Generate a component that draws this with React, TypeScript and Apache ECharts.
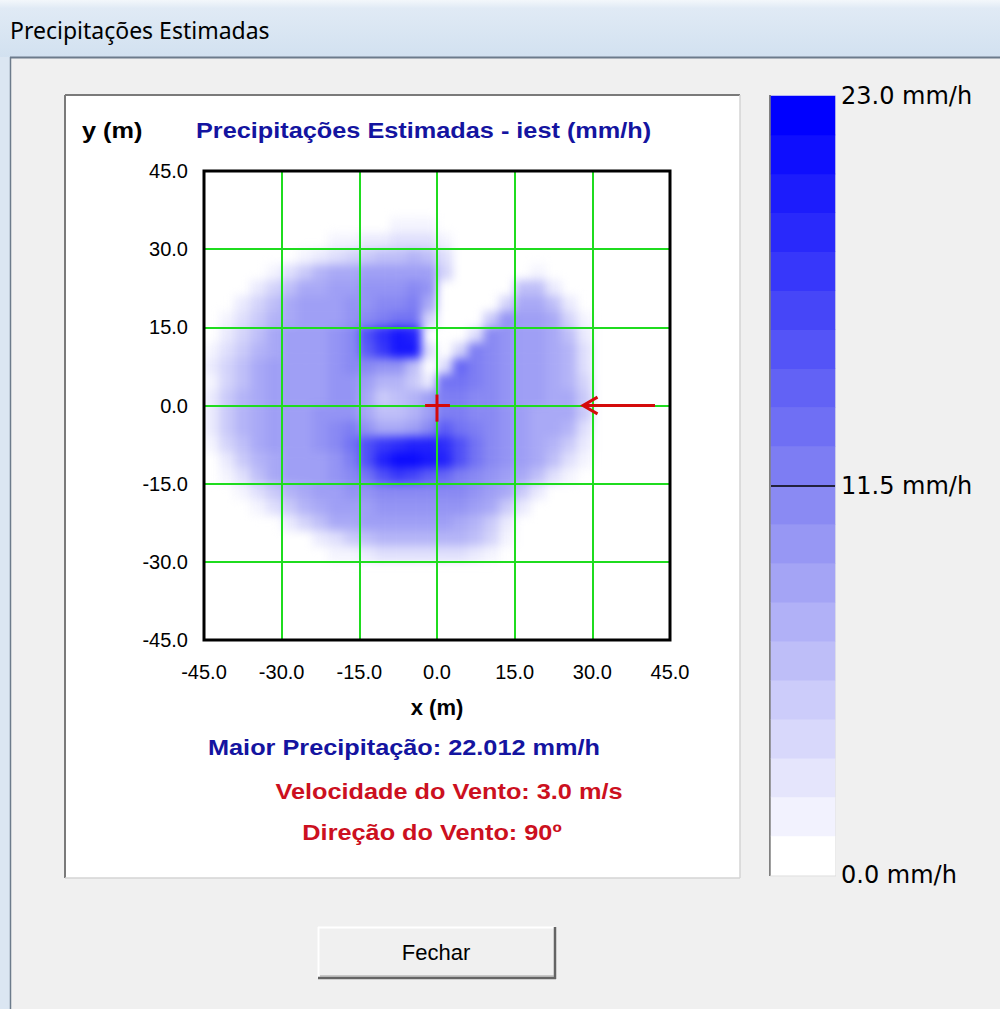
import React, { useEffect, useRef } from "react";
import * as echarts from "echarts";

// ---- data ----
// cell centres (m) of the 3 m x 3 m estimation grid
const X_CENTERS = [-43.5, -40.5, -37.5, -34.5, -31.5, -28.5, -25.5, -22.5, -19.5, -16.5, -13.5, -10.5, -7.5, -4.5, -1.5, 1.5, 4.5, 7.5, 10.5, 13.5, 16.5, 19.5, 22.5, 25.5, 28.5, 31.5, 34.5, 37.5, 40.5, 43.5];
const Y_CENTERS = [-43.5, -40.5, -37.5, -34.5, -31.5, -28.5, -25.5, -22.5, -19.5, -16.5, -13.5, -10.5, -7.5, -4.5, -1.5, 1.5, 4.5, 7.5, 10.5, 13.5, 16.5, 19.5, 22.5, 25.5, 28.5, 31.5, 34.5, 37.5, 40.5, 43.5];
// estimated precipitation (mm/h), one char per cell (base 36: 0-9, a=10 ... m=22), rows from top (y=43.5) to bottom
const PRECIP_ROWS = [
  "000000000000000000000000000000",
  "000000000000000000000000000000",
  "000000000000000000000000000000",
  "000000000000111000000000000000",
  "000000001122333100000000000000",
  "000000123456676300000000000000",
  "000013578899999400000100000000",
  "0002468899aaaba000006620000000",
  "002468999aabbc8000048862000000",
  "013578999abcdd40005a9984100000",
  "02468999abgjlk0003ba9986200000",
  "13578999abfill304cba9987300000",
  "24689999abbaa603ecba9987300000",
  "14689999aa97752ddcba9987400000",
  "25789999aa85679ccbba9988500000",
  "2578999aaa86679ccbba9888500000",
  "2578999abca889bfdcba9887300000",
  "1468999abdgijkkjgdba9875200000",
  "02578999acgkmmlkgdba9863100000",
  "01368999abdgihfecba98631000000",
  "001357899aabbbbbba985200000000",
  "00013578999aaaaaa9852000000000",
  "000002468899999987520000000000",
  "000000023567777776410000000000",
  "000000001123333332100000000000",
  "000000000000000000000000000000",
  "000000000000000000000000000000",
  "000000000000000000000000000000",
  "000000000000000000000000000000",
  "000000000000000000000000000000",
];
const AXIS_MIN = -45;
const AXIS_MAX = 45;
const AXIS_STEP = 15;
// colour scale bands (mm/h), bottom to top
const COLORBAR_LEVELS = [0, 1.2, 2.4, 3.6, 4.8, 6.1, 7.3, 8.5, 9.7, 10.9, 12.1, 13.3, 14.5, 15.7, 16.9, 18.2, 19.4, 20.6, 21.8, 23.0];
const SCALE_MIN = 0;
const SCALE_MAX = 23;
const SCALE_STEP = 11.5;
const MAX_PRECIP = 22.012;
const WIND_SPEED = 3.0;
const WIND_DIR = 90;
// annotations (m): sprinkler position cross and wind arrow
const SPRINKLER_CROSS = [
  [[-2.3, 0], [2.5, 0]],
  [[0, 2.1], [0, -3.1]],
];
const WIND_ARROW = [
  [[42.1, 0], [28.2, 0]],
  [[31.0, 1.6], [28.2, 0], [31.0, -1.6]],
];

const SANS = '"Liberation Sans", Arial, sans-serif';
const PLOT = { left: 204, top: 171, width: 466, height: 469 };
const COLOR_RANGE = ["#ffffff", "#8484f2", "#0000ff"];

function line(x1: number, y1: number, x2: number, y2: number, stroke: string, w: number) {
  return { type: "line", shape: { x1, y1, x2, y2 }, style: { stroke, lineWidth: w } };
}
function boldText(text: string, x: number, y: number, fill: string, align: string) {
  return {
    type: "text",
    x,
    y,
    scaleX: 1.15,
    style: { text, fill, fontSize: 22, fontWeight: "bold", fontFamily: SANS, align, verticalAlign: "middle" },
  };
}

export default function App() {
  const chromeRef = useRef<HTMLDivElement>(null);
  const heatRef = useRef<HTMLDivElement>(null);
  const mainRef = useRef<HTMLDivElement>(null);

  useEffect(() => {
    if (!chromeRef.current || !heatRef.current || !mainRef.current) return;

    // ---------- window chrome (bottom layer) ----------
    const chrome = echarts.init(chromeRef.current, undefined, { renderer: "svg" });
    chrome.setOption({
      animation: false,
      backgroundColor: "#f0f0f0",
      graphic: [
        {
          type: "rect",
          shape: { x: 0, y: 0, width: 1000, height: 57 },
          style: {
            fill: new echarts.graphic.LinearGradient(0, 0, 0, 1, [
              { offset: 0, color: "#f3f7fb" },
              { offset: 0.15, color: "#e0eaf5" },
              { offset: 1, color: "#d2e1f0" },
            ]),
          },
        },
        { type: "rect", shape: { x: 0, y: 57, width: 10, height: 952 }, style: { fill: "#dbe6f2" } },
        line(10, 57.5, 1000, 57.5, "#6c7b8b", 2),
        line(10.5, 57, 10.5, 1009, "#6c7b8b", 1.5),
        {
          type: "text",
          x: 10,
          y: 30,
          style: { text: "Precipitações Estimadas", fill: "#000", fontSize: 23, fontFamily: '"Noto Sans", "Open Sans", sans-serif', align: "left", verticalAlign: "middle" },
        },
        { type: "rect", shape: { x: 65, y: 95, width: 675, height: 783 }, style: { fill: "#ffffff" } },
        line(65, 95, 740, 95, "#7a7a7a", 2),
        line(65, 95, 65, 878, "#7a7a7a", 2),
        line(740, 95, 740, 878, "#d4d4d4", 1.5),
        line(65, 878, 740, 878, "#d4d4d4", 1.5),
        line(770, 95, 770, 876, "#808080", 2),
        line(835.5, 95, 835.5, 876, "#e4e4e4", 1),
        line(770, 876, 836, 876, "#e0e0e0", 1),
        { type: "rect", shape: { x: 318, y: 927, width: 237, height: 51 }, style: { fill: "#f0f0f0" } },
        line(318, 927.5, 555, 927.5, "#ffffff", 2),
        line(318.5, 927, 318.5, 978, "#ffffff", 2),
        line(318, 978, 556, 978, "#646464", 2.5),
        line(555, 927, 555, 979, "#646464", 2.5),
        line(320, 976, 554, 976, "#a0a0a0", 1),
        {
          type: "text",
          x: 436,
          y: 952,
          style: { text: "Fechar", fill: "#000", fontSize: 22, fontFamily: SANS, align: "center", verticalAlign: "middle" },
        },
      ],
    });

    // ---------- precipitation field (middle layer, softened like the original raster) ----------
    const heat = echarts.init(heatRef.current, undefined, { renderer: "svg" });
    const heatData: number[][] = [];
    PRECIP_ROWS.forEach((row, r) => {
      for (let i = 0; i < row.length; i++) {
        const v = parseInt(row[i], 36);
        if (v > 0) heatData.push([i, PRECIP_ROWS.length - 1 - r, v]);
      }
    });
    heat.setOption({
      animation: false,
      backgroundColor: "transparent",
      grid: { left: 0, top: 0, right: 0, bottom: 0 },
      xAxis: { type: "category", data: X_CENTERS, show: false },
      yAxis: { type: "category", data: Y_CENTERS, show: false },
      visualMap: { type: "continuous", show: false, min: SCALE_MIN, max: SCALE_MAX, inRange: { color: COLOR_RANGE } },
      series: [{ type: "heatmap", data: heatData, itemStyle: { borderWidth: 0 }, emphasis: { disabled: true } }],
    });

    // ---------- axes, grid lines, colour scale, texts, markers (top layer) ----------
    const main = echarts.init(mainRef.current, undefined, { renderer: "svg" });
    const barData = COLORBAR_LEVELS.map((v, k) => [0, k, v]);
    const markData = [...SPRINKLER_CROSS, ...WIND_ARROW].map((c) => ({ coords: c }));
    const valueLabel = { color: "#000", fontSize: 20, fontFamily: SANS, formatter: (v: number) => v.toFixed(1) };

    main.setOption({
      animation: false,
      backgroundColor: "transparent",
      textStyle: { fontFamily: SANS },
      graphic: [
        boldText("y (m)", 82, 131, "#000000", "left"),
        boldText("Precipitações Estimadas - iest (mm/h)", 196, 131, "#1414a0", "left"),
        boldText(`Maior Precipitação: ${MAX_PRECIP.toFixed(3)} mm/h`, 404, 748, "#1414a0", "center"),
        boldText(`Velocidade do Vento: ${WIND_SPEED.toFixed(1)} m/s`, 449, 792, "#cc1020", "center"),
        boldText(`Direção do Vento: ${WIND_DIR}º`, 432, 833, "#cc1020", "center"),
      ],
      grid: [
        { ...PLOT, show: true, borderColor: "#000", borderWidth: 3, backgroundColor: "transparent", z: 10 },
        { left: 771, top: 96, width: 64, height: 779, show: false },
      ],
      xAxis: [
        {
          type: "value",
          gridIndex: 0,
          min: AXIS_MIN,
          max: AXIS_MAX,
          interval: AXIS_STEP,
          position: "bottom",
          z: 5,
          axisLine: { show: false },
          axisTick: { show: false },
          axisLabel: { ...valueLabel, margin: 22 },
          splitLine: { show: true, lineStyle: { color: "#1fdc1f", width: 2 } },
          name: "x (m)",
          nameLocation: "middle",
          nameGap: 56,
          nameTextStyle: { color: "#000", fontSize: 22, fontWeight: "bold", fontFamily: SANS },
        },
        { type: "category", gridIndex: 1, data: ["escala"], show: false },
      ],
      yAxis: [
        {
          type: "value",
          gridIndex: 0,
          min: AXIS_MIN,
          max: AXIS_MAX,
          interval: AXIS_STEP,
          position: "left",
          z: 5,
          axisLine: { show: false },
          axisTick: { show: false },
          axisLabel: { ...valueLabel, margin: 16 },
          splitLine: { show: true, lineStyle: { color: "#1fdc1f", width: 2 } },
        },
        { type: "category", gridIndex: 1, data: COLORBAR_LEVELS.map(String), show: false },
        {
          type: "value",
          gridIndex: 1,
          min: SCALE_MIN,
          max: SCALE_MAX,
          interval: SCALE_STEP,
          position: "right",
          z: 5,
          axisLine: { show: false },
          axisTick: { show: false },
          axisLabel: { color: "#000", fontSize: 24, fontFamily: '"DejaVu Sans", sans-serif', margin: 6, formatter: (v: number) => v.toFixed(1) + " mm/h" },
          splitLine: { show: true, showMinLine: false, showMaxLine: false, lineStyle: { color: "#000", width: 1.5 } },
        },
      ],
      visualMap: {
        type: "continuous",
        show: false,
        min: SCALE_MIN,
        max: SCALE_MAX,
        seriesIndex: 0,
        inRange: { color: COLOR_RANGE },
      },
      series: [
        { type: "heatmap", xAxisIndex: 1, yAxisIndex: 1, data: barData, itemStyle: { borderWidth: 0 }, emphasis: { disabled: true } },
        {
          type: "lines",
          coordinateSystem: "cartesian2d",
          xAxisIndex: 0,
          yAxisIndex: 0,
          polyline: true,
          z: 8,
          data: markData,
          lineStyle: { color: "#d40a0a", width: 3, opacity: 1 },
          silent: true,
        },
      ],
    });

    return () => {
      chrome.dispose();
      heat.dispose();
      main.dispose();
    };
  }, []);

  return (
    <div style={{ position: "absolute", left: 0, top: 0, width: 1000, height: 1009, overflow: "hidden" }}>
      <div ref={chromeRef} style={{ position: "absolute", left: 0, top: 0, width: 1000, height: 1009 }} />
      <div style={{ position: "absolute", left: PLOT.left, top: PLOT.top, width: PLOT.width, height: PLOT.height, overflow: "hidden" }}>
        <div ref={heatRef} style={{ position: "absolute", left: 0, top: 0, width: PLOT.width, height: PLOT.height, filter: "blur(5px)" }} />
      </div>
      <div ref={mainRef} style={{ position: "absolute", left: 0, top: 0, width: 1000, height: 1009 }} />
    </div>
  );
}
